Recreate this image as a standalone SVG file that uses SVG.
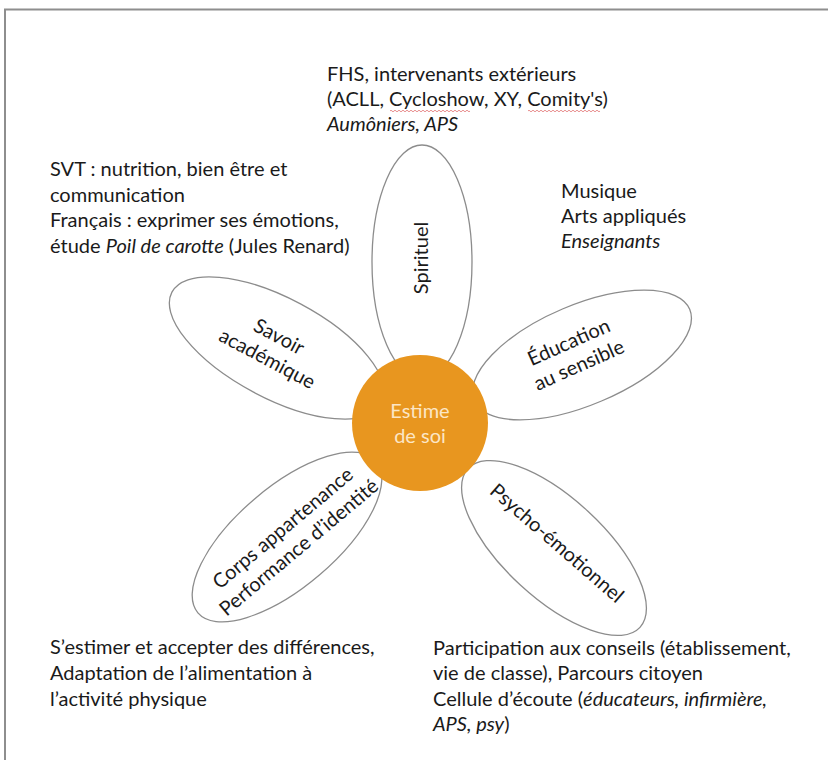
<svg xmlns="http://www.w3.org/2000/svg" width="828" height="760" viewBox="0 0 828 760">
<style>
.t { font-family: Lato, "Open Sans", "Liberation Sans", sans-serif; font-size: 20px; fill: #1a1a1a; }
.i { font-style: italic; }
.m { text-anchor: middle; }
.petal { fill: #ffffff; stroke: #8c8c8c; stroke-width: 1.3; }
.heart { fill: #E8961F; }
.ht { font-family: Lato, "Open Sans", "Liberation Sans", sans-serif; font-size: 20px; fill: #FCE6C6; text-anchor: middle; }
.sq { fill: none; stroke: #e07070; stroke-width: 0.8; }
</style>
<rect x="0" y="0" width="828" height="760" fill="#ffffff"/>
<path d="M5,760 V9.5 H828" fill="none" stroke="#8e8e8e" stroke-width="2"/>

<g id="petal-spirituel">
  <ellipse class="petal" cx="422" cy="262" rx="50" ry="117"/>
  <text class="t m" transform="translate(428,258) rotate(-90)">Spirituel</text>
</g>
<g id="petal-savoir">
  <ellipse class="petal" cx="0" cy="0" rx="119" ry="50" transform="translate(277,348) rotate(28)"/>
  <g transform="translate(273,348) rotate(28)">
    <text class="t m" x="0" y="-6">Savoir</text>
    <text class="t m" x="0" y="19">académique</text>
  </g>
</g>
<g id="petal-education">
  <ellipse class="petal" cx="0" cy="0" rx="117" ry="50" transform="translate(582,355) rotate(-23)"/>
  <g transform="translate(574,354) rotate(-24)">
    <text class="t m" x="0" y="-6">Éducation</text>
    <text class="t m" x="0" y="19">au sensible</text>
  </g>
</g>
<g id="petal-corps">
  <ellipse class="petal" cx="0" cy="0" rx="117" ry="50" transform="translate(287,537) rotate(-40.4)"/>
  <g transform="translate(291,538) rotate(-40)">
    <text class="t m" x="0" y="-6">Corps appartenance</text>
    <text class="t m" x="0" y="19">Performance d’identité</text>
  </g>
</g>
<g id="petal-psycho">
  <ellipse class="petal" cx="0" cy="0" rx="117" ry="50" transform="translate(554,548) rotate(42.7)"/>
  <text class="t m" transform="translate(557,543) rotate(41)" y="7">Psycho-émotionnel</text>
</g>

<g id="center">
  <circle class="heart" cx="420" cy="423" r="68"/>
  <text class="ht" x="420" y="418">Estime</text>
  <text class="ht" x="420" y="443">de soi</text>
</g>

<g id="note-top">
  <text class="t" x="327" y="81">FHS, intervenants extérieurs</text>
  <text class="t" x="327" y="106">(ACLL, Cycloshow, XY, Comity's)</text>
  <text class="t i" x="327" y="131">Aumôniers, APS</text>
  <path class="sq" d="M390,111 q1,-1.6 2,0 t2,0 t2,0 t2,0 t2,0 t2,0 t2,0 t2,0 t2,0 t2,0 t2,0 t2,0 t2,0 t2,0 t2,0 t2,0 t2,0 t2,0 t2,0 t2,0 t2,0 t2,0 t2,0 t2,0 t2,0 t2,0 t2,0 t2,0 t2,0 t2,0 t2,0 t2,0 t2,0 t2,0 t2,0 t2,0 t2,0 t2,0 t2,0 t2,0"/>
  <path class="sq" d="M528,111 q1,-1.6 2,0 t2,0 t2,0 t2,0 t2,0 t2,0 t2,0 t2,0 t2,0 t2,0 t2,0 t2,0 t2,0 t2,0 t2,0 t2,0 t2,0 t2,0 t2,0 t2,0 t2,0 t2,0 t2,0 t2,0 t2,0 t2,0 t2,0 t2,0 t2,0 t2,0 t2,0 t2,0 t2,0 t2,0 t2,0 t2,0"/>
</g>
<g id="note-left">
  <text class="t" x="50" y="176">SVT : nutrition, bien être et</text>
  <text class="t" x="50" y="202">communication</text>
  <text class="t" x="50" y="227">Français : exprimer ses émotions,</text>
  <text class="t" x="50" y="253">étude <tspan class="i">Poil de carotte</tspan> (Jules Renard)</text>
</g>
<g id="note-right">
  <text class="t" x="561" y="198">Musique</text>
  <text class="t" x="561" y="223">Arts appliqués</text>
  <text class="t i" x="561" y="248">Enseignants</text>
</g>
<g id="note-bottom-left">
  <text class="t" x="50" y="654">S’estimer et accepter des différences,</text>
  <text class="t" x="50" y="680">Adaptation de l’alimentation à</text>
  <text class="t" x="50" y="706">l’activité physique</text>
</g>
<g id="note-bottom-right">
  <text class="t" x="433" y="655">Participation aux conseils (établissement,</text>
  <text class="t" x="433" y="680">vie de classe), Parcours citoyen</text>
  <text class="t" x="433" y="706">Cellule d’écoute (<tspan class="i">éducateurs, infirmière,</tspan></text>
  <text class="t" x="433" y="731"><tspan class="i">APS, psy</tspan>)</text>
</g>
</svg>
